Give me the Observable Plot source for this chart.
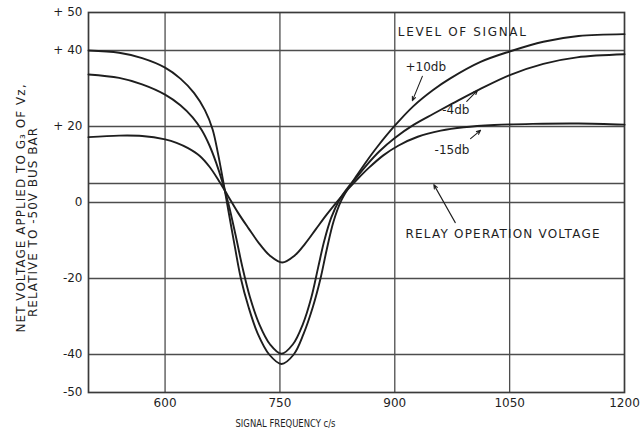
<!DOCTYPE html>
<html>
<head>
<meta charset="utf-8">
<script src="https://cdn.jsdelivr.net/npm/d3@7"></script>
<script src="https://cdn.jsdelivr.net/npm/@observablehq/plot@0.6"></script>
<style>
html, body { margin: 0; padding: 0; background: #ffffff; }
#chart svg { display: block; }
</style>
</head>
<body>
<div id="chart"></div>
<script>
// ---- data ----
const seriesNames = ["+10db", "-4db", "-15db"];

const freqPlus10 = [500, 540, 570, 600, 620, 638, 652, 662, 669, 676, 683, 691, 699, 709, 721, 736, 752, 768, 781, 793, 803, 811, 820, 830, 840, 851, 863, 877, 900, 924, 950, 972, 1012, 1051, 1094, 1140, 1200];
const voltPlus10 = [40, 39.4, 38, 35.5, 32.6, 28.8, 24.3, 19.3, 13, 5.5, -2.5, -11.5, -20, -27.5, -34.5, -40, -42.5, -40, -34.5, -27.5, -20, -12.5, -5, 0.5, 4, 7.3, 10.8, 14.6, 20.2, 25.3, 29.6, 32.6, 37, 39.8, 42.3, 43.8, 44.3];

const freqMinus4 = [500, 540, 570, 600, 620, 636, 648, 658, 667, 675, 683, 692, 701, 711, 723, 737, 752, 767, 780, 791, 800, 808, 817, 828, 839, 850, 863, 880, 900, 925, 950, 975, 1010, 1051, 1094, 1138, 1200];
const voltMinus4 = [33.7, 32.8, 31.1, 28.4, 25.6, 22.4, 19, 15, 10.3, 5.3, -0.5, -8.5, -17, -25, -32, -37.3, -39.8, -37.3, -32, -25, -17, -10, -4, 0.8, 4, 6.6, 9.8, 13.5, 17, 20.5, 23.3, 26, 29.7, 33.6, 36.5, 38.2, 39];

const freqMinus15 = [500, 540, 570, 600, 615, 630, 645, 658, 670, 682, 695, 709, 723, 737, 753, 769, 783, 797, 811, 825, 838, 851, 866, 885, 905, 930, 960, 990, 1030, 1080, 1140, 1200];
const voltMinus15 = [17.2, 17.6, 17.5, 16.6, 15.7, 14.3, 12.3, 9.4, 5.8, 1.8, -2.6, -6.8, -10.8, -14, -15.8, -14, -10.8, -7, -3.2, 0.3, 3.3, 6.1, 9.1, 12.4, 15, 17.3, 18.9, 19.8, 20.4, 20.7, 20.8, 20.5];

const relayVoltage = 5;

const xTicks = [600, 750, 900, 1050, 1200];
const xTickLabels = ["600", "750", "900", "1050", "1200"];
const yTicks = [50, 40, 20, 0, -20, -40, -50];
const yTickLabels = ["+ 50", "+ 40", "+ 20", "0", "-20", "-40", "-50"];
const xGrid = [600, 750, 900, 1050];
const yGrid = [40, 20, 0, -20, -40];

const annotationTexts = ["LEVEL OF SIGNAL", "+10db", "-4db", "-15db", "RELAY OPERATION VOLTAGE"];
const annotationFreq = [904, 914, 962, 952, 914];
const annotationVolt = [44.7, 35.5, 24.2, 13.7, -8.2];

const arrowFreqFrom = [936, 994, 999, 979];
const arrowVoltFrom = [33.2, 26.6, 16.8, -5.3];
const arrowFreqTo = [923, 1008, 1012, 951];
const arrowVoltTo = [26.8, 29.5, 19, 4.7];

const xLabel = "SIGNAL FREQUENCY c/s";
const yLabel1 = "NET VOLTAGE APPLIED TO G\u2083 OF Vz,";
const yLabel2 = "RELATIVE TO -50V BUS BAR";

// ---- tables built from the arrays ----
const seriesFreqs = [freqPlus10, freqMinus4, freqMinus15];
const seriesVolts = [voltPlus10, voltMinus4, voltMinus15];
const rows = [];
seriesNames.forEach((name, s) => {
  seriesFreqs[s].forEach((f, i) => rows.push({series: name, f, v: seriesVolts[s][i]}));
});
const annotations = annotationTexts.map((t, i) => ({t, f: annotationFreq[i], v: annotationVolt[i]}));
const arrows = arrowFreqFrom.map((f, i) => ({f1: f, v1: arrowVoltFrom[i], f2: arrowFreqTo[i], v2: arrowVoltTo[i]}));
const xFmt = new Map(xTicks.map((d, i) => [d, xTickLabels[i]]));
const yFmt = new Map(yTicks.map((d, i) => [d, yTickLabels[i]]));

const ink = "#1e1e1e";
const gridInk = "#4d4d4d";

const chart = Plot.plot({
  width: 640,
  height: 438,
  marginLeft: 88,
  marginRight: 16,
  marginTop: 12,
  marginBottom: 46,
  style: {fontFamily: "DejaVu Sans", background: "#ffffff", color: ink},
  x: {domain: [500, 1200]},
  y: {domain: [-50, 50]},
  marks: [
    Plot.gridX(xGrid, {stroke: gridInk, strokeOpacity: 1, strokeWidth: 1.3}),
    Plot.gridY(yGrid, {stroke: gridInk, strokeOpacity: 1, strokeWidth: 1.3}),
    Plot.ruleY([relayVoltage], {stroke: gridInk, strokeWidth: 1.4}),
    Plot.frame({stroke: "#3a3a3a", strokeWidth: 1.7}),
    Plot.line(rows, {x: "f", y: "v", z: "series", curve: "catmull-rom", stroke: ink, strokeWidth: 1.9}),
    Plot.text(annotations, {x: "f", y: "v", text: "t", textAnchor: "start", fontSize: 12, fill: ink}),
    Plot.arrow(arrows, {x1: "f1", y1: "v1", x2: "f2", y2: "v2", stroke: ink, strokeWidth: 1.1, headLength: 6, headAngle: 45}),
    Plot.axisX(xTicks, {tickFormat: d => xFmt.get(d), tickSize: 0, tickPadding: 6, fontSize: 12, label: null, fill: ink}),
    Plot.axisY(yTicks, {tickFormat: d => yFmt.get(d), tickSize: 0, tickPadding: 6, fontSize: 12, label: null, fill: ink}),
    Plot.text([xLabel], {text: d => d, frameAnchor: "bottom-left", textAnchor: "start", lineAnchor: "middle", dx: 147, dy: 31, fontSize: 11, fill: ink}),
    Plot.text([yLabel1], {text: d => d, frameAnchor: "left", textAnchor: "middle", lineAnchor: "middle", dx: -67, dy: 6, rotate: -90, fontSize: 12, fill: ink}),
    Plot.text([yLabel2], {text: d => d, frameAnchor: "left", textAnchor: "middle", lineAnchor: "middle", dx: -55, dy: 20, rotate: -90, fontSize: 12, fill: ink})
  ]
});

// widths of the hand lettering in the reference
const letteringWidth = new Map([
  ["LEVEL OF SIGNAL", [128, "spacing"]],
  ["RELAY OPERATION VOLTAGE", [194, "spacing"]],
  [xLabel, [100, "spacingAndGlyphs"]],
  [yLabel1, [248, "spacing"]],
  [yLabel2, [189, "spacing"]]
]);
d3.select(chart).selectAll("text").each(function() {
  const w = letteringWidth.get(this.textContent);
  if (w) d3.select(this).attr("textLength", w[0]).attr("lengthAdjust", w[1]);
});

document.getElementById("chart").appendChild(chart);
</script>
</body>
</html>
